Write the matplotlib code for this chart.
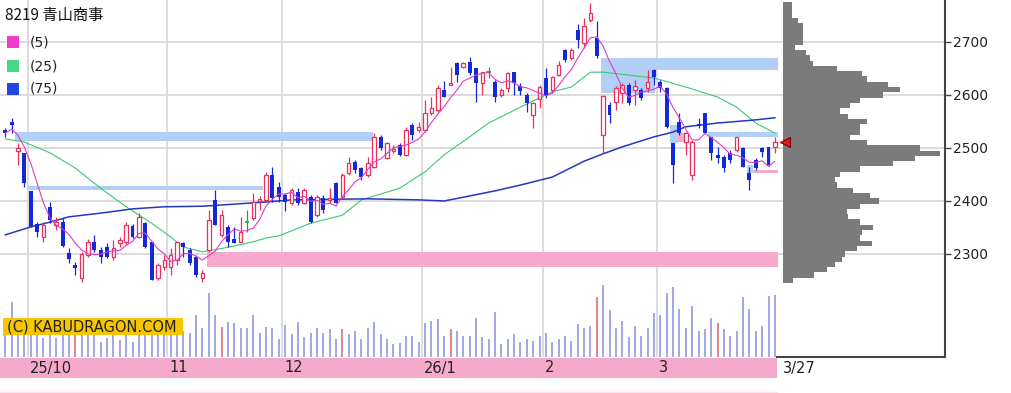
import numpy as np
import pandas as pd
import matplotlib
matplotlib.use('Agg')
import matplotlib.pyplot as plt
from matplotlib.patches import Rectangle
from matplotlib.lines import Line2D
from matplotlib.transforms import blended_transform_factory

# ---- data ----
opens = [2534, 2549, 2494, 2490, 2419, 2357, 2332, 2389, 2355, 2360,
         2302, 2279, 2255, 2298, 2323, 2308, 2313, 2294, 2321, 2323,
         2353, 2332, 2358, 2323, 2255, 2275, 2275, 2289, 2321, 2308,
         2294, 2255, 2308, 2402, 2336, 2351, 2328, 2323, 2360, 2368,
         2400, 2402, 2449, 2426, 2411, 2396, 2417, 2396, 2408, 2374,
         2406, 2402, 2434, 2408, 2453, 2474, 2462, 2449, 2464, 2521,
         2481, 2494, 2506, 2487, 2543, 2534, 2534, 2566, 2572, 2609,
         2619, 2660, 2653, 2662, 2651, 2623, 2643, 2625, 2600, 2613,
         2643, 2617, 2600, 2562, 2592, 2632, 2609, 2638, 2685, 2670,
         2723, 2698, 2742, 2708, 2525, 2581, 2587, 2604, 2619, 2609,
         2609, 2613, 2647, 2625, 2613, 2509, 2549, 2511, 2449, 2545,
         2566, 2521, 2487, 2483, 2490, 2496, 2500, 2453, 2477, 2500,
         2502, 2502]
highs = [2538, 2557, 2509, 2490, 2419, 2360, 2360, 2398, 2370, 2368,
         2311, 2285, 2304, 2328, 2336, 2313, 2321, 2326, 2332, 2360,
         2357, 2377, 2360, 2323, 2283, 2298, 2311, 2323, 2323, 2311,
         2298, 2270, 2383, 2421, 2383, 2355, 2351, 2370, 2383, 2415,
         2409, 2455, 2464, 2436, 2415, 2424, 2424, 2424, 2411, 2411,
         2411, 2424, 2436, 2453, 2483, 2477, 2464, 2483, 2528, 2524,
         2511, 2506, 2509, 2540, 2547, 2549, 2591, 2596, 2619, 2626,
         2653, 2662, 2662, 2672, 2651, 2643, 2653, 2628, 2613, 2643,
         2643, 2623, 2604, 2587, 2619, 2651, 2636, 2664, 2687, 2689,
         2734, 2745, 2774, 2740, 2600, 2587, 2617, 2623, 2623, 2628,
         2613, 2647, 2649, 2628, 2615, 2509, 2566, 2530, 2515, 2556,
         2566, 2521, 2502, 2487, 2496, 2521, 2502, 2464, 2481, 2502,
         2502, 2521]
lows = [2521, 2528, 2468, 2426, 2351, 2332, 2323, 2358, 2345, 2313,
        2283, 2260, 2247, 2294, 2304, 2283, 2292, 2289, 2313, 2317,
        2330, 2330, 2311, 2251, 2251, 2270, 2260, 2279, 2294, 2279,
        2256, 2247, 2304, 2355, 2332, 2313, 2321, 2323, 2342, 2364,
        2383, 2402, 2398, 2398, 2381, 2392, 2392, 2394, 2358, 2370,
        2377, 2396, 2396, 2406, 2449, 2453, 2440, 2445, 2462, 2496,
        2479, 2490, 2485, 2485, 2515, 2530, 2530, 2562, 2568, 2596,
        2619, 2624, 2651, 2638, 2587, 2600, 2632, 2587, 2596, 2606,
        2600, 2600, 2568, 2538, 2575, 2594, 2604, 2636, 2662, 2666,
        2689, 2689, 2738, 2670, 2490, 2547, 2572, 2585, 2581, 2581,
        2590, 2606, 2619, 2606, 2538, 2434, 2524, 2487, 2440, 2538,
        2528, 2477, 2472, 2455, 2472, 2492, 2464, 2421, 2458, 2483,
        2466, 2490]
closes = [2528, 2543, 2500, 2434, 2351, 2341, 2355, 2364, 2360, 2315,
          2290, 2273, 2300, 2323, 2308, 2294, 2294, 2311, 2326, 2355,
          2332, 2370, 2313, 2251, 2279, 2289, 2298, 2323, 2313, 2283,
          2260, 2264, 2364, 2355, 2374, 2323, 2321, 2342, 2360, 2398,
          2404, 2449, 2406, 2408, 2398, 2421, 2396, 2421, 2360, 2408,
          2383, 2406, 2396, 2449, 2472, 2458, 2445, 2472, 2521, 2500,
          2509, 2498, 2487, 2534, 2525, 2540, 2566, 2575, 2613, 2596,
          2623, 2638, 2660, 2642, 2623, 2643, 2643, 2596, 2609, 2642,
          2623, 2608, 2585, 2585, 2615, 2598, 2634, 2657, 2666, 2685,
          2704, 2730, 2755, 2674, 2598, 2562, 2613, 2619, 2585, 2617,
          2594, 2625, 2634, 2613, 2540, 2468, 2528, 2528, 2511, 2541,
          2528, 2491, 2481, 2462, 2477, 2521, 2464, 2440, 2462, 2492,
          2468, 2511]
# volume (thousand shares); flagged days drawn red
volumes = [140, 275, 150, 130, 160, 135, 95, 145, 95, 150,
           130, 140, 155, 135, 125, 75, 95, 135, 85, 145,
           75, 130, 150, 170, 140, 135, 150, 145, 130, 120,
           210, 145, 320, 210, 150, 175, 170, 145, 145, 210,
           120, 150, 145, 90, 160, 115, 175, 100, 120, 145,
           120, 140, 90, 140, 115, 130, 90, 145, 175, 115,
           90, 65, 70, 105, 105, 75, 170, 180, 190, 105,
           140, 130, 105, 105, 195, 100, 90, 225, 65, 90,
           115, 75, 90, 80, 105, 120, 75, 90, 105, 80,
           165, 145, 155, 300, 360, 235, 145, 180, 100, 155,
           105, 145, 220, 210, 320, 350, 240, 145, 255, 130,
           140, 195, 170, 140, 105, 130, 300, 240, 130, 155,
           305, 310]
red_volume_days = [11, 34, 53, 70, 93, 112]

ma25_idx = [0, 3, 7, 11, 15, 19, 23, 26, 28, 31, 33, 36, 39, 41, 43, 48, 50, 53,
            56, 62, 66, 69, 73, 76, 81, 86, 89, 92, 94, 102, 107, 112, 115, 118, 121]
ma25_val = [2517, 2511, 2491, 2462, 2424, 2389, 2358, 2332, 2313, 2304, 2308, 2315,
            2323, 2330, 2334, 2358, 2364, 2373, 2402, 2424, 2455, 2487, 2521, 2547,
            2577, 2606, 2615, 2643, 2643, 2632, 2615, 2596, 2577, 2547, 2528]
ma75_idx = [0, 4, 7, 10, 15, 20, 25, 31, 36, 41, 45, 57, 65, 69, 72, 77, 81, 86,
            91, 94, 97, 102, 105, 107, 112, 118, 121]
ma75_val = [2336, 2351, 2360, 2370, 2377, 2385, 2389, 2390, 2394, 2398, 2402, 2404,
            2402, 2400, 2407, 2419, 2430, 2445, 2475, 2489, 2502, 2521, 2530, 2540,
            2547, 2553, 2557]

# price-by-volume profile
hist_prices = list(range(2250, 2780, 10))
hist_vol = [10, 31, 44, 52, 59, 62, 74, 89, 77, 79, 90, 77, 65, 64, 77, 96, 87, 70,
            54, 52, 57, 77, 110, 132, 157, 137, 84, 67, 77, 77, 84, 65, 57, 67, 77,
            100, 117, 105, 84, 79, 54, 30, 27, 23, 12, 20, 20, 20, 20, 15, 9, 9, 9]

# support / resistance zones: start idx, end idx, low, high, kind
zone_start = [1.5, 3.6, 31.7, 93.7, 93.7, 110.5, 104.5, 105.8, 116.6, 117.6]
zone_end = [57.8, 40.5, 121.5, 121.5, 102.2, 121.5, 105.8, 107.3, 117.6, 121.5]
zone_low = [2513, 2420, 2275, 2647, 2604, 2521, 2509, 2511, 2453, 2453]
zone_high = [2530, 2428, 2303, 2670, 2647, 2530, 2543, 2528, 2468, 2458]
zone_kind = ['b', 'b', 'p', 'b', 'b', 'b', 'b', 'p', 'b', 'p']

month_idx = [3.5, 25.5, 43.5, 65.5, 84.5, 102.5]
month_labels = ['25/10', '11', '12', '26/1', '2', '3']
last_label = '3/27'
price_ticks = [2300, 2400, 2500, 2600, 2700]

# ---- styling ----
W, H = 1011, 393
RED = '#e8305c'
BLUE = '#1428d8'
GREEN = '#2a9a3a'
ZBLUE = '#b2d0f6'
ZPINK = '#f5aacb'
GRID = '#d6d6d6'


def fx(px):
    return px / W


def fy(py):
    return 1 - py / H


fig = plt.figure(figsize=(W / 100, H / 100), dpi=100)
rect = [0, fy(357), fx(945), 357 / H]
ax = fig.add_axes(rect)
xlim = (-5.3 / 6.36, (945 - 5.3) / 6.36)
ylim = (2105.5, 2779.2)
ax.set_xlim(*xlim)
ax.set_ylim(*ylim)

o = np.array(opens, float)
h = np.array(highs, float)
l = np.array(lows, float)
c = np.array(closes, float)
x = np.arange(len(c))

# grid
ax.set_yticks(price_ticks)
ax.set_xticks([])
ax.grid(axis='y', color=GRID, lw=1.2, zorder=0.5)
ax.set_axisbelow(True)
for m in month_idx:
    ax.axvline(m, color=GRID, lw=1.2, zorder=0.5)

# zones
for s, e, lo, hi, k in zip(zone_start, zone_end, zone_low, zone_high, zone_kind):
    ax.add_patch(Rectangle((s, lo), e - s, hi - lo, facecolor=ZBLUE if k == 'b' else ZPINK,
                           edgecolor='none', zorder=1))

# moving averages
ma5 = pd.Series(c).rolling(5, min_periods=1).mean()
ax.plot(ma25_idx, ma25_val, color='#3cc870', lw=0.8, zorder=2)
ax.plot(ma75_idx, ma75_val, color='#2338c0', lw=1.1, zorder=2)
ax.plot(x, ma5, color='#e03cc8', lw=0.8, zorder=5)

# candles
up = c > o
dn = c < o
fl = c == o
wick_col = np.where(up, RED, np.where(dn, BLUE, GREEN))
ax.vlines(x, l, h, colors=wick_col, lw=0.9, zorder=3)
blo = np.minimum(o, c)
bh = np.maximum(np.abs(c - o), 1.5)
ax.bar(x[up], bh[up], bottom=blo[up], width=0.55, facecolor='white', edgecolor=RED,
       lw=0.9, zorder=4)
ax.bar(x[dn], bh[dn], bottom=blo[dn], width=0.62, color=BLUE, lw=0, zorder=4)
ax.hlines(c[fl], x[fl] - 0.35, x[fl] + 0.35, colors=GREEN, lw=1.2, zorder=4)

# axis look
for sp in ['top', 'left', 'bottom']:
    ax.spines[sp].set_visible(False)
ax.spines['right'].set_color('#444444')
ax.spines['right'].set_linewidth(1.5)
ax.yaxis.tick_right()
ax.tick_params(axis='y', direction='out', length=4, width=1, colors='#444444',
               labelcolor='#222222', labelsize=10, pad=2)

# volume
axv = fig.add_axes(rect)
axv.set_xlim(*xlim)
axv.set_ylim(0, 357 * 5)
axv.axis('off')
axv.patch.set_alpha(0)
vcol = ['#d86070' if i in red_volume_days else '#8a90d8' for i in range(len(volumes))]
axv.vlines(x, 0, volumes, colors=vcol, lw=1.1)

# price-by-volume
axh = fig.add_axes([fx(783), fy(357), fx(945 - 783), 357 / H])
axh.set_ylim(*ylim)
axh.set_xlim(0, 162)
axh.axis('off')
axh.patch.set_alpha(0)
axh.barh(hist_prices, hist_vol, height=10, left=0, color='#7b7b7b', lw=0)
axh.plot([1.5], [closes[-1]], marker='<', ms=7, color='#e01818', mec='#7a0000', mew=0.8,
         clip_on=False, zorder=10)

# bottom frame line under the profile
fig.add_artist(Line2D([fx(777), fx(945)], [fy(357), fy(357)], color='#444444', lw=1.5))

# date strip
fig.add_artist(Rectangle((0, fy(378)), fx(777), 20 / H, transform=fig.transFigure,
                         facecolor=ZPINK, edgecolor='none'))
fig.add_artist(Line2D([0, fx(777)], [fy(392), fy(392)], color='#f8e2ee', lw=1))
trans = blended_transform_factory(ax.transData, fig.transFigure)
for m, lab in zip(month_idx, month_labels):
    fig.text(m + 0.35, fy(368), lab, transform=trans, ha='left', va='center',
             fontsize=10.5, color='#222222')
fig.text(len(c) + 0.3, fy(368), last_label, transform=trans, ha='left', va='center',
         fontsize=10.5, color='#222222')

# copyright tag
fig.add_artist(Rectangle((fx(3), fy(335)), fx(180), 17 / H, transform=fig.transFigure,
                         facecolor='#f7c600', edgecolor='none', zorder=5))
fig.text(fx(7), fy(326.5), '(C) KABUDRAGON.COM', ha='left', va='center', fontsize=10.5,
         color='#222222', zorder=6)

# title and legend
fig.text(fx(5), fy(15), '8219 青山商事', family=['Noto Sans CJK JP', 'DejaVu Sans'],
         fontsize=11, ha='left', va='center', color='#111111')
leg = [('(5)', '#f03cc8', 42), ('(25)', '#44d888', 66), ('(75)', '#2446e0', 89)]
for lab, col, yy in leg:
    fig.add_artist(Rectangle((fx(7), fy(yy + 6)), fx(12), 12 / H, transform=fig.transFigure,
                             facecolor=col, edgecolor='none'))
    fig.text(fx(30), fy(yy), lab, ha='left', va='center', fontsize=10, color='#222222')

fig.savefig('out.png', dpi=100)
